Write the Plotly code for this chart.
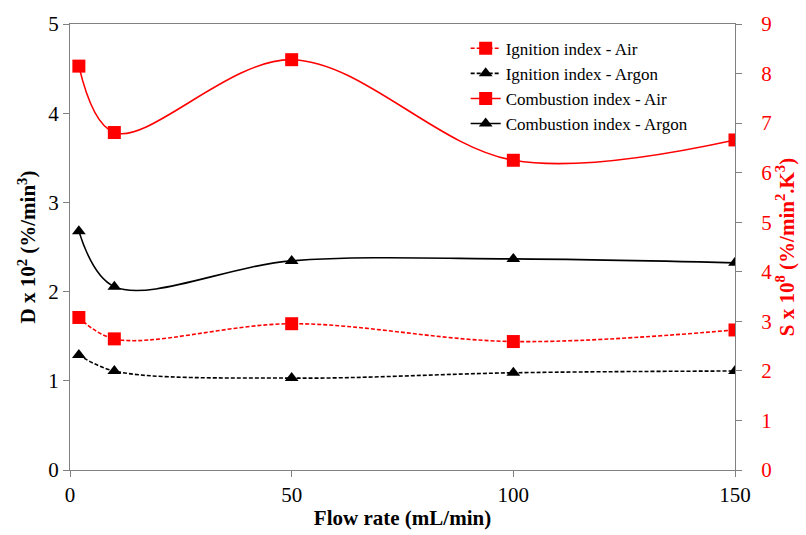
import plotly.graph_objects as go

# Flow rate (mL/min)
flow_rate = [2, 10, 50, 100, 150]

# Ignition index D x 10^2 (%/min^3) - left axis
ignition_air = [1.71, 1.47, 1.64, 1.44, 1.57]
ignition_argon = [1.29, 1.11, 1.03, 1.09, 1.11]

# Combustion index S x 10^8 (%/min^2.K^3) - right axis
combustion_air = [8.15, 6.81, 8.28, 6.25, 6.66]
combustion_argon = [4.82, 3.70, 4.22, 4.26, 4.18]

x_ticks = [0, 50, 100, 150]
left_ticks = [0, 1, 2, 3, 4, 5]
right_ticks = list(range(0, 10))

RED = "#ff0000"
BLACK = "#000000"
FONT = "Liberation Serif"

fig = go.Figure()

series = [
    ("Ignition index - Air", ignition_air, RED, "square", "4px,2px", "y", 13),
    ("Ignition index - Argon", ignition_argon, BLACK, "triangle-up", "4px,2px", "y", 12),
    ("Combustion index - Air", combustion_air, RED, "square", "solid", "y2", 13),
    ("Combustion index - Argon", combustion_argon, BLACK, "triangle-up", "solid", "y2", 12),
]

for name, vals, color, symbol, dash, axis, msize in series:
    fig.add_trace(go.Scatter(
        x=flow_rate, y=vals, name=name, yaxis=axis,
        mode="lines+markers",
        line=dict(color=color, width=1.6, dash=dash, shape="spline", smoothing=1.0),
        marker=dict(color=color, symbol=symbol, size=msize),
    ))

axis_line = "#808080"

fig.update_layout(
    width=806, height=535,
    margin=dict(l=70, r=71, t=24, b=65),
    paper_bgcolor="white", plot_bgcolor="white",
    font=dict(family=FONT, size=21, color=BLACK),
    showlegend=True,
    legend=dict(
        x=0.595, y=0.985, xanchor="left", yanchor="top",
        font=dict(family=FONT, size=17, color=BLACK),
        bgcolor="rgba(0,0,0,0)", tracegroupgap=0,
        itemwidth=30,
    ),
    xaxis=dict(
        range=[0, 150], tickvals=x_ticks, showgrid=False, zeroline=False,
        showline=True, linecolor=axis_line, linewidth=1.2, mirror=True,
        ticks="outside", ticklen=6, tickcolor=axis_line, automargin=False,
        tickfont=dict(family=FONT, size=21, color=BLACK),
        title=dict(text="<b>Flow rate (mL/min)</b>", font=dict(family=FONT, size=21, color=BLACK), standoff=4),
    ),
    yaxis=dict(
        range=[0, 5], tickvals=left_ticks, showgrid=False, zeroline=False,
        showline=True, linecolor=axis_line, linewidth=1.2,
        ticks="outside", ticklen=6, tickcolor=axis_line, automargin=False,
        tickfont=dict(family=FONT, size=21, color=BLACK),
        title=dict(text="<b>D x 10<sup>2</sup> (%/min<sup>3</sup>)</b>",
                   font=dict(family=FONT, size=21, color=BLACK), standoff=6),
    ),
    yaxis2=dict(
        range=[0, 9], tickvals=right_ticks, overlaying="y", side="right", anchor="x",
        showgrid=False, zeroline=False,
        showline=True, linecolor=axis_line, linewidth=1.2,
        ticks="outside", ticklen=6, tickcolor=axis_line, automargin=False,
        ticklabelstandoff=15,
        tickfont=dict(family=FONT, size=21, color=RED),
        title=dict(text="<b>S x 10<sup>8</sup> (%/min<sup>2</sup>.K<sup>3</sup>)</b>",
                   font=dict(family=FONT, size=21, color=RED), standoff=6),
    ),
)

fig.write_html("out.html")
